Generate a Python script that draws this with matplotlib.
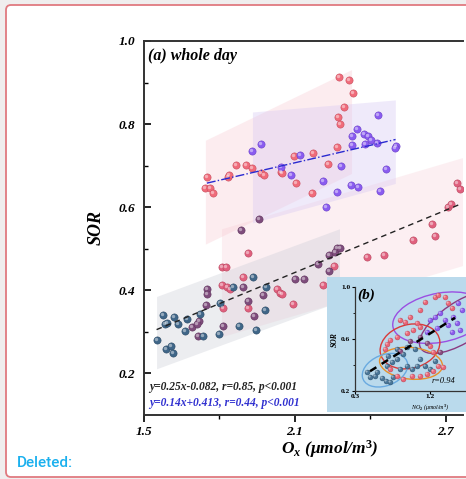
import numpy as np
import matplotlib.pyplot as plt
from matplotlib.patches import Polygon, Ellipse, FancyBboxPatch
from matplotlib import transforms

plt.rcParams['mathtext.fontset'] = 'custom'
plt.rcParams['mathtext.it'] = 'Liberation Serif:italic:bold'
plt.rcParams['mathtext.rm'] = 'Liberation Serif:bold'
plt.rcParams['mathtext.bf'] = 'Liberation Serif:bold'

# ---- panel (a): SOR vs Ox ----
# upper group, red points
red_x = [1.750, 1.742, 1.762, 1.774, 1.834, 1.838, 1.866, 1.905, 1.929, 1.965, 1.977,
         2.044, 2.096, 2.104, 2.048, 2.172, 2.231, 2.168, 2.275, 2.315, 2.331, 2.295,
         2.271, 2.279, 2.267]
red_y = [0.673, 0.646, 0.646, 0.634, 0.673, 0.678, 0.702, 0.702, 0.695, 0.682, 0.678,
         0.685, 0.724, 0.658, 0.682, 0.731, 0.704, 0.634, 0.913, 0.905, 0.874, 0.842,
         0.816, 0.801, 0.745]
# upper group, purple points
pur_x = [1.929, 1.965, 2.044, 2.084, 2.120, 2.430, 2.346, 2.327, 2.374, 2.390, 2.402,
         2.327, 2.378, 2.426, 2.501, 2.497, 2.283, 2.462, 2.211, 2.323, 2.350, 2.267,
         2.438, 2.223]
pur_y = [0.736, 0.753, 0.697, 0.678, 0.726, 0.823, 0.789, 0.772, 0.777, 0.772, 0.762,
         0.750, 0.753, 0.755, 0.748, 0.743, 0.699, 0.692, 0.663, 0.653, 0.649, 0.636,
         0.639, 0.600]
# lower group
blue_x = [1.552, 1.576, 1.583, 1.591, 1.621, 1.635, 1.671, 1.663, 1.587, 1.607, 1.617,
          1.723, 1.734, 1.798, 1.802, 1.878, 1.945, 1.981, 1.985, 1.854, 1.933]
blue_y = [0.280, 0.341, 0.319, 0.321, 0.336, 0.319, 0.331, 0.302, 0.258, 0.266, 0.249,
          0.343, 0.290, 0.295, 0.370, 0.314, 0.304, 0.353, 0.409, 0.409, 0.433]
mauve_x = [1.719, 1.691, 1.711, 1.715, 1.746, 1.750, 1.750, 1.814, 1.913, 1.937, 1.973,
           1.893, 2.100, 2.136, 2.235, 2.259, 2.267, 2.279, 2.191, 2.235, 1.885, 1.957]
mauve_y = [0.326, 0.312, 0.319, 0.290, 0.365, 0.404, 0.392, 0.314, 0.375, 0.338, 0.389,
           0.409, 0.428, 0.428, 0.486, 0.493, 0.501, 0.503, 0.464, 0.447, 0.544, 0.571]
pink_x = [1.814, 1.913, 1.810, 1.830, 1.842, 1.893, 2.029, 2.040, 2.092, 2.211, 2.255,
          2.386, 2.454, 2.569, 2.656, 2.645, 2.708, 2.720, 2.744, 2.756, 1.913, 1.810,
          1.826, 2.048]
pink_y = [0.358, 0.358, 0.413, 0.409, 0.404, 0.433, 0.404, 0.394, 0.367, 0.413, 0.459,
          0.481, 0.484, 0.522, 0.530, 0.559, 0.600, 0.607, 0.658, 0.644, 0.489, 0.457,
          0.455, 0.392]

# fits printed on the chart
fit_all = (0.25, -0.082)
fit_hi = (0.14, 0.413)

# ---- panel (b): SOR vs NO2 ----
b_blue_x = [0.444, 0.48, 0.54, 0.564, 0.624, 0.672, 0.72, 0.756, 0.684, 0.744, 0.804, 0.876,
            0.924, 0.984, 0.84, 1.044, 1.08, 1.14, 0.924, 1.02, 0.804, 0.696, 1.20, 1.26]
b_blue_y = [0.345, 0.307, 0.314, 0.345, 0.299, 0.276, 0.268, 0.307, 0.390, 0.421, 0.444, 0.482,
            0.390, 0.368, 0.368, 0.390, 0.444, 0.390, 0.535, 0.520, 0.520, 0.467, 0.368, 0.429]
b_red_x = [0.84, 0.90, 0.96, 1.044, 1.08, 1.14, 1.26, 1.296, 1.38, 1.416, 1.464, 0.804, 0.72,
           0.924, 0.996, 1.08, 1.20, 1.236, 1.296, 1.236, 1.356, 0.876, 0.984, 0.804, 1.08,
           1.164, 0.72, 0.66, 0.684]
b_red_y = [0.749, 0.733, 0.771, 0.726, 0.825, 0.886, 0.924, 0.939, 0.924, 0.878, 0.840, 0.619,
           0.596, 0.649, 0.672, 0.695, 0.543, 0.497, 0.390, 0.352, 0.383, 0.291, 0.314, 0.314,
           0.314, 0.329, 0.368, 0.520, 0.558]
b_pur_x = [1.20, 1.26, 1.32, 1.38, 1.416, 1.476, 1.524, 1.56, 1.464, 1.284, 1.164, 1.584, 1.536]
b_pur_y = [0.749, 0.771, 0.802, 0.749, 0.710, 0.771, 0.726, 0.672, 0.657, 0.688, 0.657, 0.825, 0.878]
b_mauve_x = [1.08, 0.84, 0.96, 1.164, 1.32]
b_mauve_y = [0.619, 0.505, 0.581, 0.573, 0.497]

serif = dict(family='Liberation Serif', weight='bold', style='italic')

fig = plt.figure(figsize=(4.66, 4.79), dpi=100, facecolor='#f0eeee')

# page frame with red border
frame = FancyBboxPatch((6, 2), 470, 472, boxstyle='round,pad=0,rounding_size=5',
                       transform=transforms.IdentityTransform(), facecolor='white',
                       edgecolor='#e07a80', linewidth=1.3, zorder=-10)
fig.add_artist(frame)

ax = fig.add_axes([144/466, 64/479, 319/466, 374/479])
ax.set_facecolor('none')
ax.set_xlim(1.5, 2.768)
ax.set_ylim(0.1, 1.0)

# shaded bands behind the points
bands = [
    ([(1.810, 0.547), (2.80, 0.724), (2.80, 0.464), (1.810, 0.287)], '#f6c3cc', 0.25),
    ([(1.746, 0.760), (2.327, 0.930), (2.327, 0.680), (1.746, 0.510)], '#f8c6cf', 0.32),
    ([(1.933, 0.828), (2.501, 0.857), (2.501, 0.656), (1.933, 0.561)], '#d9cbf4', 0.40),
    ([(1.552, 0.384), (2.279, 0.547), (2.279, 0.372), (1.552, 0.210)], '#c9ccd6', 0.35),
]
for verts, col, a in bands:
    ax.add_patch(Polygon(verts, closed=True, facecolor=col, edgecolor='none', alpha=a, zorder=1))


def balls(a, x, y, col, edge, s):
    a.scatter(x, y, s=s, c=col, edgecolors=edge, linewidths=0.4, zorder=3)
    hl = transforms.offset_copy(a.transData, fig=fig, x=-1.0, y=1.0, units='dots')
    a.scatter(x, y, s=s * 0.22, c='white', alpha=0.45, linewidths=0, transform=hl, zorder=4)


balls(ax, red_x, red_y, '#f06b7a', '#c84d5c', 27)
balls(ax, pur_x, pur_y, '#8a5cf0', '#6a3fc8', 27)
balls(ax, pink_x, pink_y, '#e0607e', '#b8475f', 27)
balls(ax, mauve_x, mauve_y, '#7e4c7c', '#5e345c', 27)
balls(ax, blue_x, blue_y, '#3f6688', '#2b4a66', 27)

xs = np.array([1.55, 2.76])
ax.plot(xs, fit_all[0] * xs + fit_all[1], color='#222222', lw=1.0, ls=(0, (4, 3)), zorder=5)
xs = np.array([1.75, 2.50])
ax.plot(xs, fit_hi[0] * xs + fit_hi[1], color='#2a2ad0', lw=1.0, ls='-.', zorder=5)

for side in ['top', 'left', 'bottom']:
    ax.spines[side].set_linewidth(1.4)
    ax.spines[side].set_color('#333333')
ax.spines['right'].set_visible(False)

ax.set_xticks([1.5, 2.1, 2.7])
ax.set_xticks([1.8, 2.4], minor=True)
ax.set_yticks([0.2, 0.4, 0.6, 0.8, 1.0])
ax.set_yticks([0.3, 0.5, 0.7, 0.9], minor=True)
ax.tick_params(axis='x', which='major', direction='out', length=5, width=1.2, pad=3)
ax.tick_params(axis='x', which='minor', direction='out', length=3, width=1.0)
ax.tick_params(axis='y', which='major', direction='in', length=5, width=1.2, pad=6)
ax.tick_params(axis='y', which='minor', direction='in', length=3, width=1.0)
ax.set_xticklabels(['1.5', '2.1', '2.7'], fontsize=9.5, **serif)
ax.set_yticklabels(['0.2', '0.4', '0.6', '0.8', '1.0'], fontsize=9.5, **serif)

ax.text(0.012, 0.96, '(a) whole day', transform=ax.transAxes, fontsize=11.5,
        va='center', ha='left', **serif)
ax.text(0.016, 0.075, 'y=0.25x-0.082, r=0.85, p<0.001', transform=ax.transAxes,
        fontsize=8.3, va='center', ha='left', color='#222222', zorder=6, **serif)
ax.text(0.016, 0.032, 'y=0.14x+0.413, r=0.44, p<0.001', transform=ax.transAxes,
        fontsize=8.3, va='center', ha='left', color='#3030d0', zorder=6, **serif)

fig.text(96/466, 1 - 228/479, 'SOR', rotation=90, fontsize=13, ha='center', va='center', **serif)
fig.text(330/466, 1 - 449/479, '$O_x$ (μmol/m$^3$)', fontsize=12.5, ha='center', va='center', **serif)

# ---- inset ----
bg = fig.add_axes([327/466, 1 - 412/479, 139/466, 135/479])
bg.set_facecolor('#badaec')
bg.set_xticks([])
bg.set_yticks([])
for s in bg.spines.values():
    s.set_visible(False)

axi = fig.add_axes([355/466, 1 - 391/479, 111/466, 104/479])
axi.set_facecolor('none')
axi.set_xlim(0.3, 1.632)
axi.set_ylim(0.2, 1.0)
axi.spines['top'].set_visible(False)
axi.spines['right'].set_visible(False)
for side in ['left', 'bottom']:
    axi.spines[side].set_linewidth(0.9)
    axi.spines[side].set_color('#333333')

ellipses = [
    ((1.32, 0.764), 1.14, 0.38, 6, '#9a4fe2'),
    ((1.584, 0.733), 1.08, 0.34, 20, '#8b3a80'),
    ((0.96, 0.543), 0.72, 0.34, 6, '#d93a3a'),
    ((0.972, 0.413), 0.756, 0.244, -3, '#e8902a'),
    ((0.66, 0.360), 0.552, 0.244, 10, '#6aaae0'),
]
for c, w, h, ang, col in ellipses:
    axi.add_patch(Ellipse(c, w, h, angle=ang, fill=False, edgecolor=col, lw=1.0, zorder=2))

balls(axi, b_blue_x, b_blue_y, '#4a7698', '#2f5573', 12)
balls(axi, b_red_x, b_red_y, '#ea6677', '#c04a5a', 12)
balls(axi, b_mauve_x, b_mauve_y, '#8a4a7e', '#63345b', 12)
balls(axi, b_pur_x, b_pur_y, '#8d5cec', '#6a40c8', 12)

axi.plot([0.48, 1.50], [0.352, 0.763], color='black', lw=1.8, ls=(0, (3, 2.5)), zorder=5)

axi.set_xticks([0.3, 1.2])
axi.set_yticks([0.2, 0.6, 1.0])
axi.set_yticks([0.4, 0.8], minor=True)
axi.tick_params(axis='both', which='major', direction='out', length=2.5, width=0.8, pad=1)
axi.tick_params(axis='x', which='major', length=2, pad=0.2)
axi.tick_params(axis='y', which='minor', direction='out', length=1.5, width=0.6)
axi.set_xticklabels(['0.3', '1.2'], fontsize=5.3, family='Liberation Serif', weight='bold')
axi.set_yticklabels(['0.2', '0.6', '1.0'], fontsize=5.3, family='Liberation Serif', weight='bold')

axi.text(0.02, 0.92, '(b)', transform=axi.transAxes, fontsize=11, va='center', ha='left', **serif)
fig.text(335/466, 1 - 340/479, 'SOR', rotation=90, fontsize=5.5, ha='center', va='center', **serif)
fig.text(430/466, 1 - 407.5/479, 'NO$_2$ (μmol/m$^3$)', fontsize=4.3, ha='center', va='center',
         family='Liberation Serif', style='italic')
fig.text(432/466, 1 - 381/479, 'r=0.94', fontsize=6, ha='left', va='center',
         family='Liberation Serif', style='italic')

fig.text(17/466, 1 - 463/479, 'Deleted:', fontsize=11, color='#1ab0ee', ha='left', va='center',
         family='Roboto', weight='medium')

fig.savefig('out.png', dpi=100, facecolor=fig.get_facecolor())
